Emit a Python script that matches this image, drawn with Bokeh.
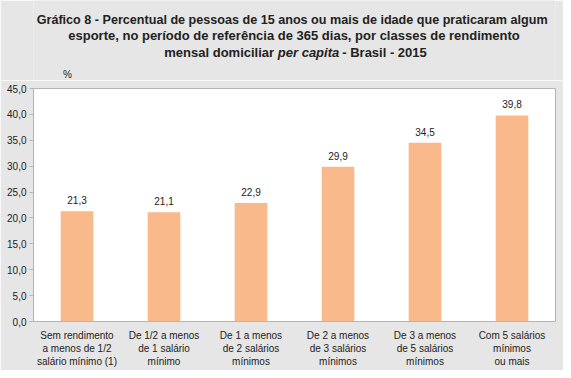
from bokeh.plotting import figure
from bokeh.layouts import column
from bokeh.models import FactorRange, FixedTicker, CustomJSTickFormatter, ColumnDataSource, Range1d
from bokeh.core.properties import value
from bokeh.embed import file_html
from bokeh.resources import INLINE

categories = [
    "Sem rendimento\na menos de 1/2\nsalário mínimo (1)",
    "De 1/2 a menos\nde 1 salário\nmínimo",
    "De 1 a menos\nde 2 salários\nmínimos",
    "De 2 a menos\nde 3 salários\nmínimos",
    "De 3 a menos\nde 5 salários\nmínimos",
    "Com 5 salários\nmínimos\nou mais",
]
values = [21.3, 21.1, 22.9, 29.9, 34.5, 39.8]
y_ticks = [0, 5, 10, 15, 20, 25, 30, 35, 40, 45]
title_line1 = "Gráfico 8 - Percentual de pessoas de 15 anos ou mais de idade que praticaram algum"
title_line2 = "esporte, no período de referência de 365 dias, por classes de rendimento"
title_line3a = "mensal domiciliar"
title_line3b = "per capita"
title_line3c = "- Brasil - 2015"
unit_label = "%"

BG = "#e6e6e6"
BAR = "#f9b98a"
TXT = "#222222"
AX = "#b4b4b4"

W = 563
HT = 80          # title strip height
HM = 290         # main chart height
L, R, T, B = 33, 8, 8, 49
YMAX = 45

# ---- title strip -------------------------------------------------------
t = figure(width=W, height=HT, x_range=Range1d(0, W), y_range=Range1d(HT, 0),
           x_axis_type=None, y_axis_type=None, output_backend="svg",
           toolbar_location=None, min_border=0)
t.background_fill_color = BG
t.border_fill_color = BG
t.outline_line_color = None
t.xgrid.grid_line_color = None
t.ygrid.grid_line_color = None

TF = value("Liberation Sans")
TS = value("13px")
t.text(x=[279], y=[19.1], text=[title_line1],
       text_align="center", text_baseline="alphabetic", text_font=TF,
       text_font_size=value("12.6px"), text_font_style="bold", text_color=TXT)
t.text(x=[281], y=[35.3], text=[title_line2],
       text_align="center", text_baseline="alphabetic", text_font=TF,
       text_font_size=TS, text_font_style="bold", text_color=TXT)
t.text(x=[259.5], y=[51.5], text=[title_line3a], text_align="right",
       text_baseline="alphabetic", text_font=TF, text_font_size=TS,
       text_font_style="bold", text_color=TXT)
t.text(x=[263.5], y=[51.5], text=[title_line3b], text_align="left",
       text_baseline="alphabetic", text_font=TF, text_font_size=TS,
       text_font_style="bold italic", text_color=TXT)
t.text(x=[333], y=[51.5], text=[title_line3c], text_align="left",
       text_baseline="alphabetic", text_font=TF, text_font_size=TS,
       text_font_style="bold", text_color=TXT)
t.text(x=[36.5], y=[73.5], text=[unit_label], text_align="center",
       text_baseline="middle", text_font=TF,
       text_font_size=value("10px"), text_color=TXT)

# ---- main chart --------------------------------------------------------
p = figure(width=W, height=HM, x_range=FactorRange(factors=categories), y_range=(0, YMAX),
           output_backend="svg", toolbar_location=None,
           min_border_left=L, min_border_right=R, min_border_top=T, min_border_bottom=B)
p.background_fill_color = "white"
p.border_fill_color = BG
p.outline_line_color = AX
p.xgrid.grid_line_color = None
p.ygrid.grid_line_color = None

src = ColumnDataSource(dict(x=categories, top=values,
                            lab=[f"{v:.1f}".replace(".", ",") for v in values]))
p.vbar(x="x", top="top", width=0.375, source=src, fill_color=BAR, line_color=None)
p.text(x="x", y="top", text="lab", source=src, y_offset=-11, text_align="center",
       text_baseline="middle", text_font_size=value("10px"), text_color=TXT,
       text_font=TF)

ya = p.yaxis[0]
ya.ticker = FixedTicker(ticks=y_ticks)
ya.formatter = CustomJSTickFormatter(code="return tick.toFixed(1).replace('.', ',');")
ya.major_tick_out = 4
ya.major_tick_in = 0
ya.minor_tick_line_color = None
ya.major_tick_line_color = AX
ya.axis_line_color = AX
ya.major_label_standoff = 3
ya.major_label_text_font_size = "10px"
ya.major_label_text_font = "Liberation Sans"
ya.major_label_text_color = TXT

xa = p.xaxis[0]
xa.major_tick_out = 0
xa.major_tick_in = 0
xa.major_tick_line_color = None
xa.axis_line_color = AX
xa.major_label_standoff = 8
xa.major_label_text_font_size = "10px"
xa.major_label_text_font = "Liberation Sans"
xa.major_label_text_color = TXT
xa.major_label_text_line_height = 1.2

layout = column(t, p, spacing=0)
open("out.html", "w").write(file_html(layout, INLINE))
